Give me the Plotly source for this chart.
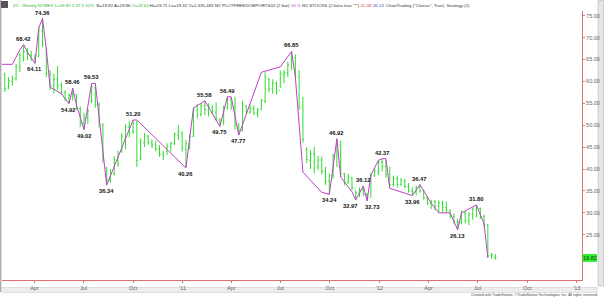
import pandas as pd
import plotly.graph_objects as go

# ---------------- data (weekly bars) ----------------
start_week = "2010-01-29"
opens = [60.5, 61.5, 58.8, 60.0, 60.6, 63.2, 65.5, 66.5, 66.0, 65.2,
         65.8, 71.5, 68.4, 61.5, 59.0, 60.5, 59.2, 57.5, 56.2, 56.5,
         57.0, 53.8, 50.5, 51.6, 55.5, 58.5, 54.6, 50.0, 40.2, 37.5,
         39.0, 42.0, 44.0, 47.2, 49.5, 48.5, 50.5, 42.5, 46.0, 47.5,
         46.0, 45.5, 44.5, 43.5, 44.0, 45.0, 45.8, 47.8, 48.2, 44.5,
         45.5, 47.5, 53.5, 52.5, 54.5, 53.5, 54.0, 53.0, 51.2, 50.5,
         54.0, 55.8, 54.2, 49.8, 48.8, 54.5, 53.0, 53.8, 52.8, 53.6,
         55.5, 60.5, 58.3, 59.5, 58.0, 61.5, 62.0, 63.5, 65.5, 61.0,
         54.0, 44.5, 42.0, 43.4, 40.5, 42.0, 39.5, 37.3, 38.5, 42.8,
         45.5, 38.8, 37.0, 38.0, 35.6, 34.5, 35.3, 34.2, 33.5, 38.6,
         39.5, 41.6, 40.6, 38.8, 36.5, 37.8, 36.5, 37.3, 36.0, 35.0,
         34.8, 35.8, 35.0, 33.4, 32.3, 32.6, 31.5, 32.2, 31.2, 30.5,
         29.2, 28.0, 27.8, 30.0, 28.2, 29.6, 30.8, 31.0, 29.2, 27.2,
         20.2, 19.9]
highs = [63.7, 62.0, 61.0, 61.3, 64.0, 66.5, 68.42, 67.6, 67.0, 66.2,
         72.4, 74.36, 67.8, 62.6, 61.8, 63.5, 59.8, 58.0, 57.3, 58.46,
         57.0, 54.3, 52.8, 53.8, 59.53, 59.4, 55.2, 50.5, 40.5, 40.0,
         43.0, 44.2, 48.2, 50.2, 51.0, 51.20, 51.0, 47.0, 48.3, 47.8,
         46.8, 46.5, 45.5, 44.2, 45.9, 46.2, 48.4, 50.0, 48.6, 46.6,
         48.0, 54.1, 54.8, 55.0, 55.58, 55.0, 54.6, 55.2, 51.6, 54.5,
         56.49, 56.3, 56.5, 50.5, 55.6, 54.6, 54.5, 54.5, 54.0, 56.0,
         62.1, 60.8, 60.5, 60.0, 62.5, 62.6, 64.5, 66.85, 66.2, 62.6,
         56.5, 45.0, 44.3, 45.1, 43.0, 42.8, 40.5, 39.0, 43.5, 46.92,
         46.5, 39.1, 38.9, 38.2, 35.2, 35.8, 36.12, 34.5, 39.1, 40.2,
         42.0, 42.37, 42.1, 40.5, 38.5, 38.5, 38.0, 37.8, 36.8, 35.8,
         36.2, 36.47, 35.3, 33.8, 33.0, 33.0, 32.8, 32.8, 32.6, 30.8,
         29.8, 28.6, 30.6, 30.4, 30.2, 31.2, 31.80, 31.2, 29.6, 27.5,
         20.9, 20.6]
lows = [59.9, 57.6, 58.2, 59.0, 60.2, 62.1, 64.6, 64.9, 64.7, 64.11,
        65.5, 67.8, 61.0, 58.0, 57.2, 58.0, 57.0, 55.5, 54.92, 55.6,
        53.5, 49.6, 49.02, 50.3, 55.0, 54.0, 49.5, 41.4, 36.34, 36.8,
        38.5, 40.5, 43.7, 44.5, 47.2, 48.0, 40.5, 42.0, 45.0, 45.6,
        44.8, 44.0, 42.8, 42.0, 43.2, 44.0, 45.5, 46.6, 44.0, 40.26,
        44.5, 47.3, 51.6, 52.0, 52.3, 52.0, 52.5, 51.0, 49.75, 50.0,
        53.6, 53.5, 49.0, 47.77, 48.5, 52.5, 52.6, 52.3, 51.8, 53.5,
        55.1, 57.5, 57.2, 57.0, 58.5, 59.6, 61.0, 62.6, 60.5, 53.5,
        46.0, 41.4, 40.0, 39.0, 39.8, 38.8, 36.4, 34.24, 37.8, 40.5,
        38.2, 36.3, 36.6, 35.2, 32.97, 33.6, 33.9, 32.73, 33.7, 38.2,
        38.6, 39.5, 38.0, 35.7, 36.0, 35.8, 36.2, 35.6, 34.6, 33.96,
        34.0, 34.6, 33.0, 31.8, 30.9, 30.6, 30.2, 30.0, 30.0, 28.8,
        27.6, 26.13, 27.4, 27.6, 27.2, 28.4, 29.0, 28.6, 26.8, 19.8,
        19.5, 19.32]
closes = [62.8, 58.4, 60.2, 60.6, 63.5, 65.9, 66.8, 66.2, 65.0, 65.8,
          71.6, 68.6, 61.8, 59.2, 60.4, 59.0, 57.6, 56.0, 56.8, 57.0,
          54.0, 50.4, 51.8, 53.3, 58.8, 54.8, 50.2, 42.3, 37.5, 39.2,
          42.2, 41.2, 47.5, 49.6, 48.2, 50.4, 42.0, 46.3, 47.6, 46.2,
          45.5, 44.6, 43.3, 43.0, 45.2, 45.8, 47.9, 48.5, 44.8, 45.8,
          47.4, 53.6, 52.4, 54.4, 53.6, 54.2, 53.2, 51.5, 50.5, 54.0,
          55.8, 54.0, 50.0, 48.8, 54.8, 53.0, 53.8, 52.8, 53.5, 55.6,
          61.0, 58.3, 59.6, 57.8, 61.8, 62.0, 63.8, 65.6, 61.2, 54.2,
          46.8, 42.2, 43.5, 40.2, 42.0, 39.5, 37.2, 38.5, 43.0, 45.5,
          39.0, 37.0, 38.2, 35.8, 34.6, 35.2, 34.2, 33.4, 38.6, 39.5,
          41.6, 40.5, 38.8, 36.4, 37.8, 36.5, 37.4, 36.0, 35.0, 34.8,
          35.8, 35.0, 33.4, 32.2, 32.6, 31.5, 32.3, 31.2, 30.6, 29.2,
          28.0, 27.8, 30.0, 28.2, 29.6, 30.8, 31.0, 29.2, 27.2, 20.2,
          20.4, 19.82]

# swing (zig-zag) line: week number and price
zig_week = [0, 3, 5, 6, 7, 9, 10, 11, 12, 13, 16, 18, 19, 20, 22, 24, 25, 28,
            35, 36, 49, 51, 54, 58, 60, 61, 63, 69, 74, 77, 78, 80, 85, 87,
            89, 90, 93, 94, 96, 97, 98, 100, 101, 102, 103, 109, 111, 114,
            116, 119, 121, 122, 126, 127, 128, 129]
zig_price = [63.9, 63.9, 67.2, 68.42, 66.7, 64.11, 72.2, 74.36, 67.5, 58.7,
             57.2, 54.92, 58.46, 54.6, 49.02, 59.53, 59.53, 36.34,
             51.20, 51.20, 40.26, 53.9, 55.58, 49.75, 56.49, 56.49, 47.77,
             62.1, 63.3, 66.85, 61.0, 39.3, 34.7, 34.24,
             46.92, 38.2, 34.8, 32.97, 36.12, 32.73, 38.6, 42.0, 42.37,
             42.37, 35.6, 33.96, 36.47, 32.2,
             30.0, 30.0, 26.13, 30.0, 31.80, 29.5, 27.5, 19.8]

# labelled swing points
swing_week = [6, 9, 11, 18, 19, 22, 24, 28, 35, 49, 54, 58, 60, 63, 77, 87,
              89, 94, 96, 97, 101, 109, 111, 121, 126]
swing_price = [68.42, 64.11, 74.36, 54.92, 58.46, 49.02, 59.53, 36.34, 51.20,
               40.26, 55.58, 49.75, 56.49, 47.77, 66.85, 34.24, 46.92, 32.97,
               36.12, 32.73, 42.37, 33.96, 36.47, 26.13, 31.80]
swing_kind = ["H", "L", "H", "L", "H", "L", "H", "L", "H", "L", "H", "L", "H",
              "L", "H", "L", "H", "L", "H", "L", "H", "L", "H", "L", "H"]

price_ticks = [25, 30, 35, 40, 45, 50, 55, 60, 65, 70, 75]
tick_dates = ["2010-04-01", "2010-07-01", "2010-10-01", "2011-01-01",
              "2011-04-01", "2011-07-01", "2011-10-01", "2012-01-01",
              "2012-04-01", "2012-07-01", "2012-10-01", "2013-01-01"]
tick_text = ["Apr", "Jul", "Oct", "'11", "Apr", "Jul", "Oct", "'12",
             "Apr", "Jul", "Oct", "'13"]
last_price = "19.82"

# ---------------- build ----------------
base = pd.Timestamp(start_week)
def wk(i):
    return base + pd.Timedelta(days=7 * i)

dates = [wk(i) for i in range(len(closes))]

W, H = 604, 297
L, R, T, B = 2, 582, 11, 280
PX_PER_WEEK = 3.774
def px_to_date(px):
    return base + pd.Timedelta(days=7 * (px - 1) / PX_PER_WEEK)
def pxx(x):
    return (x - L) / (R - L)
def pxy(y):
    return (B - y) / (B - T)

y_lo = 20 - (B - 256.7) / 4.382
y_hi = 75 + (15.7 - T) / 4.382

GREEN = "#2ede2e"
MAGENTA = "#c040c8"
AXRED = "#e07070"
FONT = "Liberation Sans, Arial, sans-serif"

fig = go.Figure()
fig.add_trace(go.Ohlc(
    x=dates, open=opens, high=highs, low=lows, close=closes,
    increasing=dict(line=dict(color=GREEN, width=1)),
    decreasing=dict(line=dict(color=GREEN, width=1)),
    tickwidth=0.3, showlegend=False, hoverinfo="skip"))
fig.add_trace(go.Scatter(
    x=[wk(i) for i in zig_week], y=zig_price, mode="lines",
    line=dict(color=MAGENTA, width=1), showlegend=False, hoverinfo="skip"))

nudge = {94: -5, 97: 5}
annotations = []
for w, p, k in zip(swing_week, swing_price, swing_kind):
    annotations.append(dict(
        x=wk(w), y=p, xref="x", yref="y", text="<b>%.2f</b>" % p,
        showarrow=False, font=dict(family=FONT, size=5.8, color="#111"),
        yanchor="bottom" if k == "H" else "top",
        yshift=1 if k == "H" else -1, xshift=nudge.get(w, 0)))

header = ('<span style="color:#2fb52f">ZZ - Weekly NYMEX L=19.82 1.37 5.52%</span>'
          '  B=19.82 A=19.86 <span style="color:#2fb52f">O=19.64</span> Hi=19.71 Lo=19.32 '
          'V=1,335,433 NV PLOTFREEDOMPORTS02 (2 bar) '
          '<span style="color:#cc44cc">16 %</span> NV STOCKS (2 false true "*") '
          '<span style="color:#dd3333">21.08</span> '
          '<span style="color:#3344cc">26.13</span>  ChartTrading ("Classic", True)  Strategy (1)')
annotations.append(dict(x=pxx(11), y=pxy(5.5), xref="paper", yref="paper",
                        text=header, showarrow=False, xanchor="left", yanchor="middle",
                        font=dict(family=FONT, size=4.4, color="#333")))
annotations.append(dict(x=pxx(600), y=pxy(294.5), xref="paper", yref="paper",
                        text="Created with TradeStation. \u00a9TradeStation Technologies, Inc. All rights reserved.",
                        showarrow=False, xanchor="right", yanchor="middle",
                        font=dict(family=FONT, size=3.6, color="#444")))
annotations.append(dict(x=pxx(589.5), y=pxy(258), xref="paper", yref="paper",
                        text=last_price, showarrow=False, xanchor="center", yanchor="middle",
                        font=dict(family=FONT, size=5.5, color="#104010")))

shapes = [
    dict(type="rect", xref="paper", yref="paper", x0=pxx(1), x1=pxx(8),
         y0=pxy(8), y1=pxy(1), fillcolor="#555", line=dict(width=0), layer="above"),
    dict(type="line", xref="paper", yref="paper", x0=pxx(0.7), x1=pxx(0.7),
         y0=pxy(292), y1=pxy(0), line=dict(color="#b0b0b0", width=1.5), layer="below"),
    dict(type="rect", xref="paper", yref="paper", x0=pxx(1.5), x1=pxx(597),
         y0=pxy(292.5), y1=pxy(287.5), fillcolor="#ededed",
         line=dict(color="#cfcfcf", width=0.6), layer="below"),
    dict(type="rect", xref="paper", yref="paper", x0=pxx(598), x1=pxx(603.5),
         y0=pxy(286), y1=pxy(0.5), fillcolor="#e6e6e6",
         line=dict(color="#b5b5b5", width=0.6), layer="below"),
    dict(type="rect", xref="paper", yref="paper", x0=pxx(582.5), x1=pxx(597),
         y0=pxy(262), y1=pxy(254), fillcolor="#33ee33",
         line=dict(width=0), layer="above"),
]

fig.update_layout(
    width=W, height=H,
    margin=dict(l=L, r=W - R, t=T, b=H - B, pad=0),
    paper_bgcolor="white", plot_bgcolor="white",
    font=dict(family=FONT, size=6, color="#555"),
    annotations=annotations, shapes=shapes,
    xaxis=dict(type="date", range=[px_to_date(L), px_to_date(R)],
               tickmode="array", tickvals=tick_dates, ticktext=tick_text,
               showticklabels=True,
               showgrid=False, zeroline=False, showline=True,
               linecolor=AXRED, linewidth=1, ticks="outside", ticklen=2,
               tickcolor=AXRED, tickfont=dict(size=5.5, color="#666"),
               rangeslider=dict(visible=False), fixedrange=True),
    yaxis=dict(side="right", range=[y_lo, y_hi], tickmode="array",
               tickvals=price_ticks, ticktext=["%.2f" % v for v in price_ticks],
               showgrid=False, zeroline=False,
               showline=True, linecolor=AXRED, linewidth=1,
               ticks="outside", ticklen=2, tickcolor="#999",
               tickfont=dict(size=5.5, color="#666"), fixedrange=True),
)

fig.write_html("out.html")
